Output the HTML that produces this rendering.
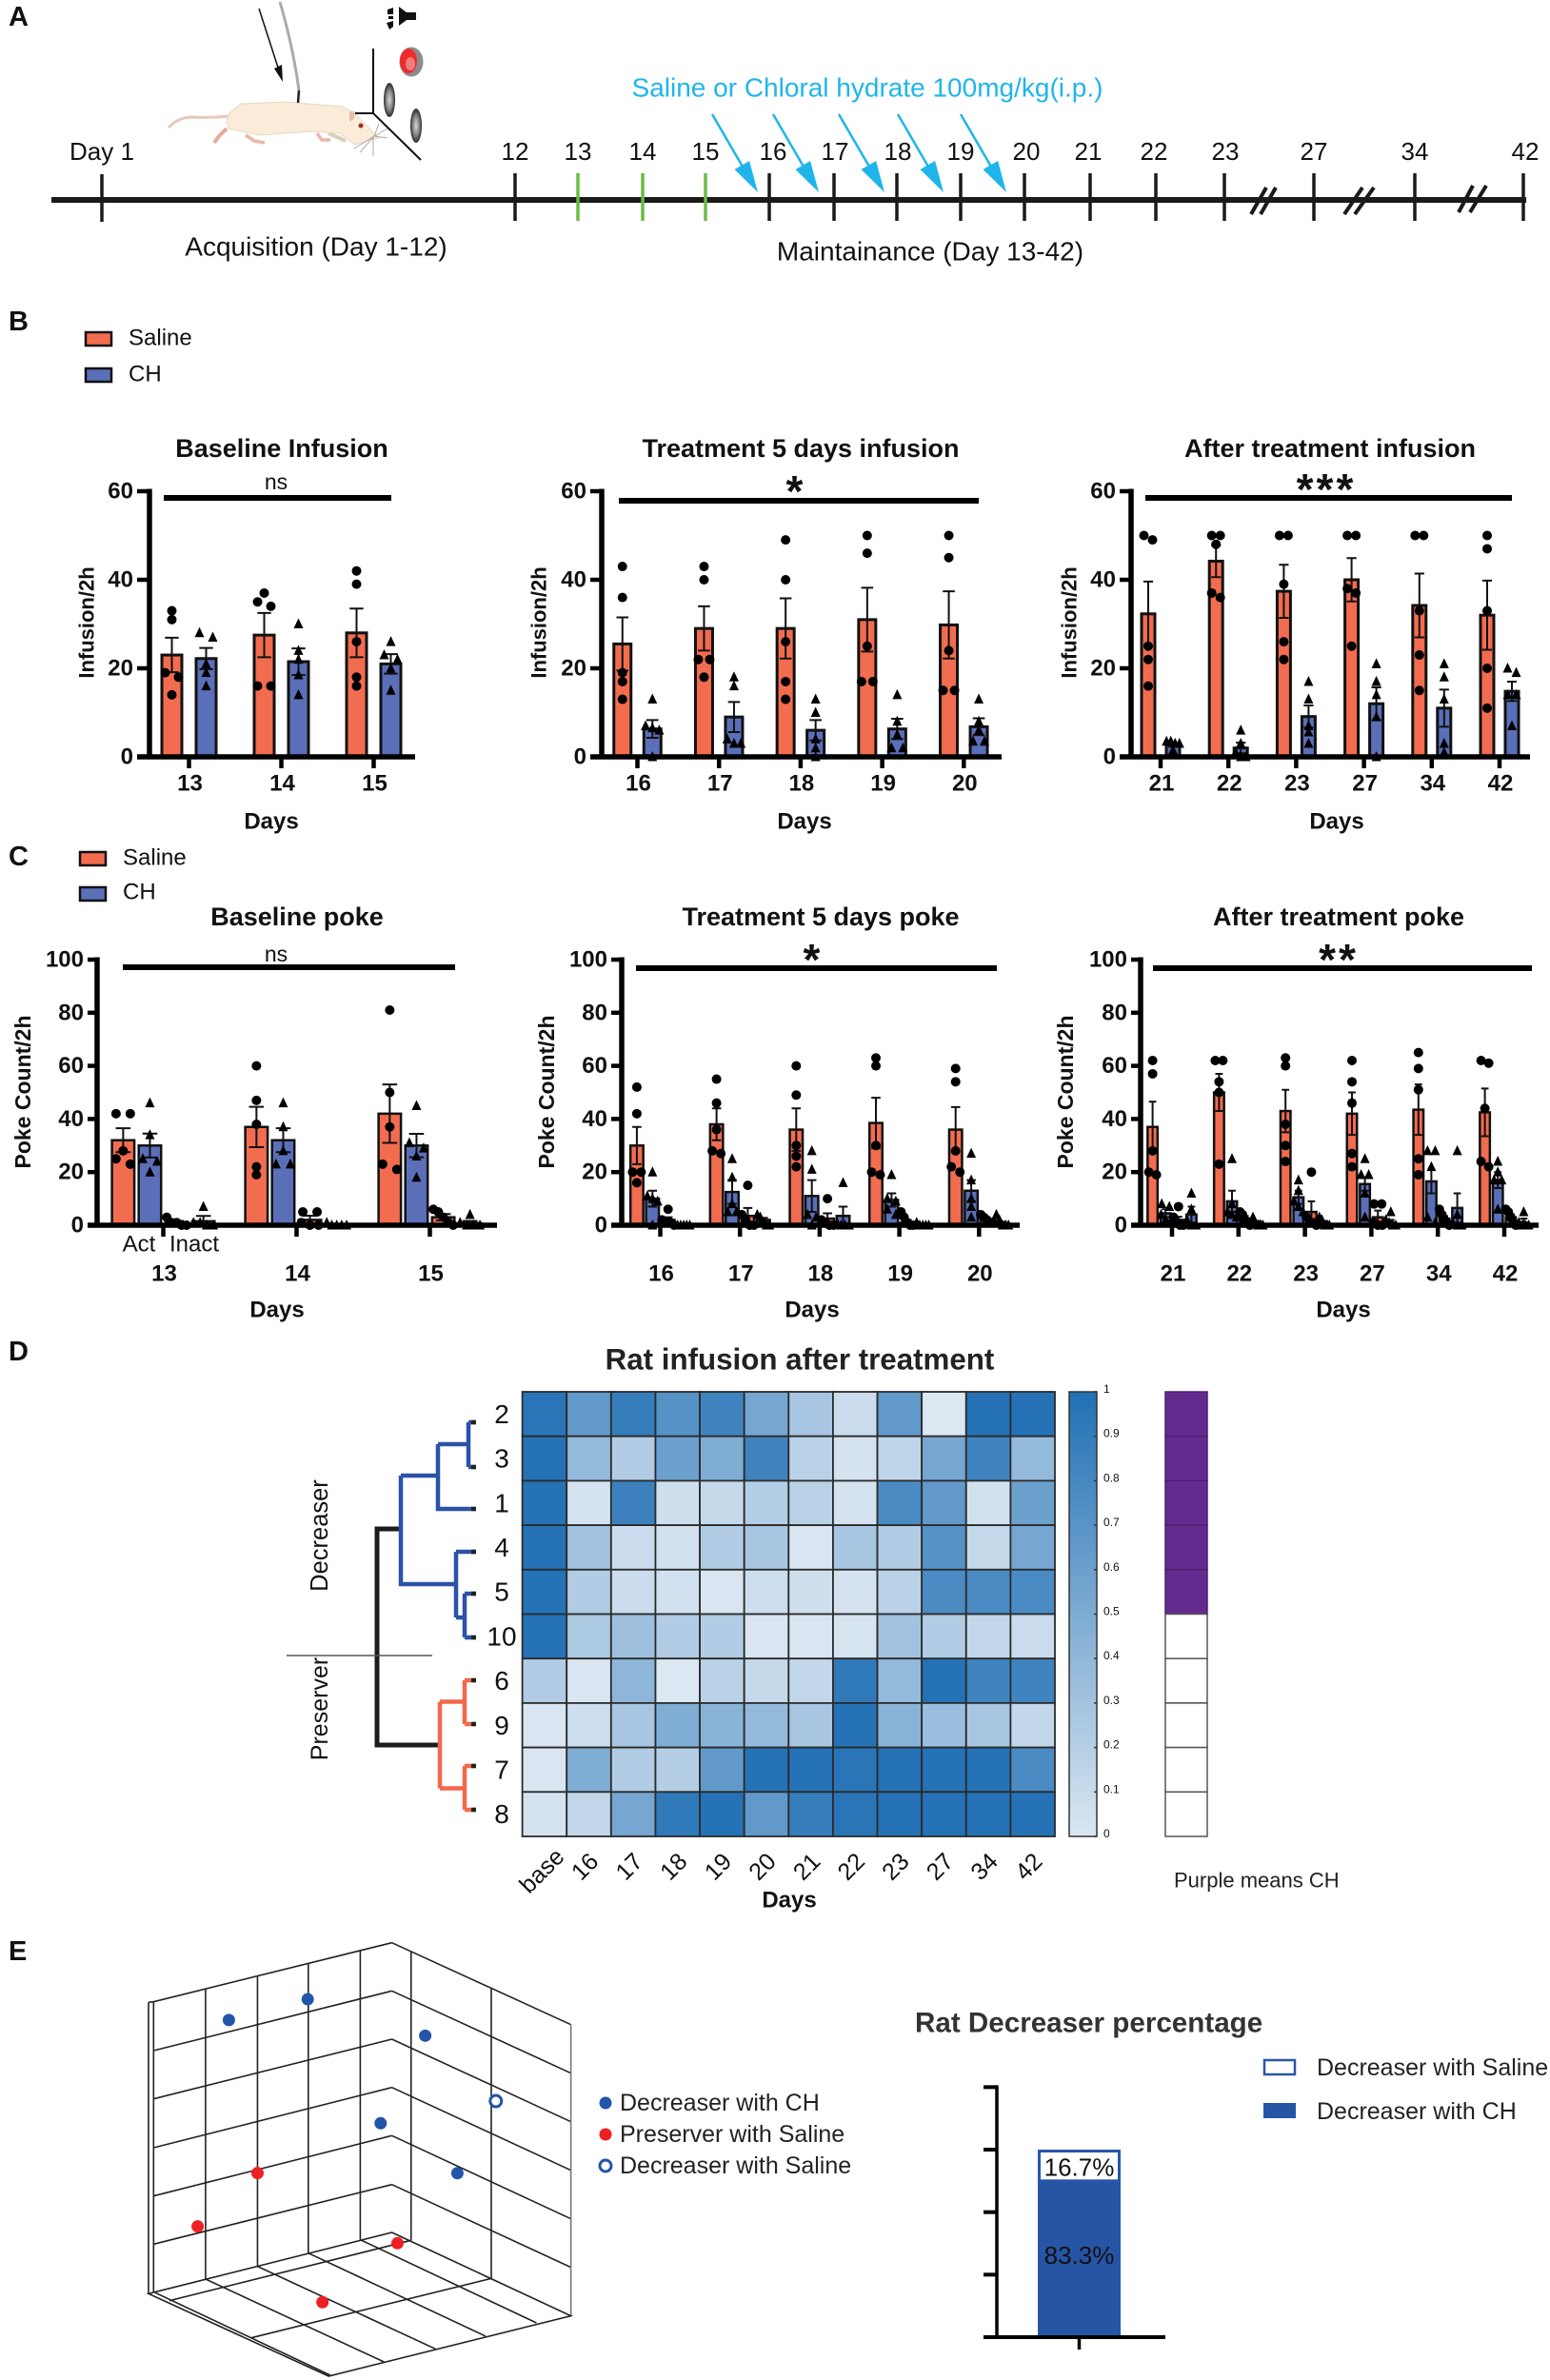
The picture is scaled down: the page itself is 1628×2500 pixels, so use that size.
<!DOCTYPE html>
<html lang="en">
<head>
<meta charset="utf-8">
<title>Chloral hydrate self-administration figure</title>
<style>
html,body{margin:0;padding:0;background:#fff}
svg{display:block}
text{font-family:"Liberation Sans",sans-serif;fill:#111}
.b{font-weight:bold}
.tl{font-size:26px;text-anchor:middle;dominant-baseline:central}
.tlw{font-size:28px;text-anchor:middle;dominant-baseline:central}
</style>
</head>
<body>
<svg id="fig" xmlns="http://www.w3.org/2000/svg" width="1628" height="2500" viewBox="0 0 1628 2500">
<defs>
<linearGradient id="cbGrad" x1="0" y1="0" x2="0" y2="1"><stop offset="0" stop-color="#2070b4"/><stop offset="1" stop-color="#dbe7f2"/></linearGradient>
<radialGradient id="holeGrad"><stop offset="0" stop-color="#d8d8d8"/><stop offset="0.55" stop-color="#888"/><stop offset="1" stop-color="#2a2a2a"/></radialGradient>
</defs>
<rect width="1628" height="2500" fill="#fff"/>

<g>
<text class="b" x="9" y="18" font-size="29" dominant-baseline="central">A</text>
<g>
<path d="M242 122Q222 124 200 123Q186 124 177 134" fill="none" stroke="#e6c8ba" stroke-width="3"/>
<path d="M238 135L230 143L225 150" fill="none" stroke="#e8a898" stroke-width="4"/>
<path d="M258 142L267 148L278 150" fill="none" stroke="#e8b8a8" stroke-width="3.5"/>
<path d="M333 140L338 147L347 147" fill="none" stroke="#e8b8a8" stroke-width="3.5"/>
<path d="M345 140L363 148" fill="none" stroke="#d8cfc0" stroke-width="4"/>
<path d="M240 120L253 109L300 107L360 112L373 120L393 140L398 145L390 147L373 152L357 140L327 138L273 142L240 135L238 128Z" fill="#fbecd9" stroke="#e6d8c4" stroke-width="1"/>
<path d="M367 117L373 117L372 125L367 128Z" fill="#e6c0a8"/>
<circle cx="379" cy="132" r="2.5" fill="#a02a1a"/>
<path d="M393 143L372 156M393 143L378 160M392 143L392 164M393 143L398 130M393 143L407 135M393 143L407 145" stroke="#aaa" stroke-width="1" fill="none"/>
<path d="M294 2Q308 50 314 95" stroke="#aaa" stroke-width="3" fill="none"/>
<path d="M314 95L313 108" stroke="#222" stroke-width="2.5"/>
<path d="M272 9L293 74" stroke="#111" stroke-width="1.5" fill="none"/>
<path d="M297 86L288 72L296 68Z" fill="#111"/>
<path d="M392 51V119L442 168" stroke="#111" stroke-width="2" fill="none"/>
<path d="M373 119H392" stroke="#111" stroke-width="2"/>
<ellipse cx="432" cy="65" rx="12.5" ry="15.5" fill="#8c8c8c"/>
<ellipse cx="429" cy="64" rx="9" ry="13" fill="#ee2a2a"/>
<ellipse cx="431" cy="67" rx="5" ry="7" fill="#f07f7f"/>
<ellipse cx="409" cy="105" rx="6" ry="18" fill="url(#holeGrad)"/>
<ellipse cx="437" cy="132" rx="6" ry="18" fill="url(#holeGrad)"/>
<path d="M419 7L427 13H437V21H427L419 27Z" fill="#111"/>
<path d="M407 10L413 8V15H407ZM408 17H413V20H408ZM406 24L413 22V28L409 31Z" fill="#111"/>
</g>
<path d="M54 210H1603" stroke="#1a1a1a" stroke-width="6"/>
<g stroke="#1a1a1a" stroke-width="3.5">
<path d="M107 183V233"/>
<path d="M541 182V232"/>
<path d="M607 182V232" stroke="#6cbb45"/>
<path d="M675 182V232" stroke="#6cbb45"/>
<path d="M741 182V232" stroke="#6cbb45"/>
<path d="M808 182V232"/>
<path d="M876 182V232"/>
<path d="M942 182V232"/>
<path d="M1009 182V232"/>
<path d="M1076 182V232"/>
<path d="M1145 182V232"/>
<path d="M1214 182V232"/>
<path d="M1286 182V232"/>
<path d="M1380 182V232"/>
<path d="M1486 182V232"/>
<path d="M1600 182V232"/>
</g>
<path d="M1314 225L1330 197M1324 225L1340 197M1412 225L1431 197M1423 225L1443 197M1532 223L1547 195M1544 223L1561 195" stroke="#1a1a1a" stroke-width="4"/>
<g>
<text class="tl" x="107" y="159">Day 1</text>
<text class="tl" x="541" y="159">12</text>
<text class="tl" x="607" y="159">13</text>
<text class="tl" x="675" y="159">14</text>
<text class="tl" x="741" y="159">15</text>
<text class="tl" x="812" y="159">16</text>
<text class="tl" x="877" y="159">17</text>
<text class="tl" x="943" y="159">18</text>
<text class="tl" x="1009" y="159">19</text>
<text class="tl" x="1078" y="159">20</text>
<text class="tl" x="1143" y="159">21</text>
<text class="tl" x="1212" y="159">22</text>
<text class="tl" x="1287" y="159">23</text>
<text class="tl" x="1380" y="159">27</text>
<text class="tl" x="1486" y="159">34</text>
<text class="tl" x="1602" y="159">42</text>
<text class="tlw" x="332" y="259">Acquisition (Day 1-12)</text>
<text class="tlw" x="977" y="264">Maintainance (Day 13-42)</text>
<text class="tlw" x="911" y="92" style="fill:#1fb5ea">Saline or Chloral hydrate 100mg/kg(i.p.)</text>
</g>
<g fill="#1fb5ea" stroke="#1fb5ea">
<g><path d="M748 120L780 175" stroke-width="2.5" fill="none"/><path d="M796 202L771.5 178L787.1 169Z" stroke="none"/></g>
<g><path d="M812 120L844 175" stroke-width="2.5" fill="none"/><path d="M860 202L835.5 178L851.1 169Z" stroke="none"/></g>
<g><path d="M881 120L913 175" stroke-width="2.5" fill="none"/><path d="M929 202L904.5 178L920.1 169Z" stroke="none"/></g>
<g><path d="M943 120L975 175" stroke-width="2.5" fill="none"/><path d="M991 202L966.5 178L982.1 169Z" stroke="none"/></g>
<g><path d="M1009 120L1041 175" stroke-width="2.5" fill="none"/><path d="M1057 202L1032.5 178L1048.1 169Z" stroke="none"/></g>
</g>
</g>

<g>
<text class="b" x="9" y="338" font-size="29" dominant-baseline="central">B</text>
<rect x="90" y="349" width="27" height="14" fill="#f26c4f" stroke="#111" stroke-width="2.5"/>
<text x="135" y="355" font-size="24" dominant-baseline="central">Saline</text>
<rect x="90" y="387" width="27" height="14" fill="#5b6fb9" stroke="#111" stroke-width="2.5"/>
<text x="135" y="393" font-size="24" dominant-baseline="central">CH</text>
</g>
<g>
<text class="b" x="9" y="900" font-size="29" dominant-baseline="central">C</text>
<rect x="84" y="895" width="27" height="14" fill="#f26c4f" stroke="#111" stroke-width="2.5"/>
<text x="129" y="901" font-size="24" dominant-baseline="central">Saline</text>
<rect x="84" y="932" width="27" height="14" fill="#5b6fb9" stroke="#111" stroke-width="2.5"/>
<text x="129" y="937" font-size="24" dominant-baseline="central">CH</text>
<text x="146" y="1307" font-size="24" text-anchor="middle" dominant-baseline="central">Act</text>
<text x="204" y="1307" font-size="24" text-anchor="middle" dominant-baseline="central">Inact</text>
</g>
<g id="barCharts"></g>

<g id="panelD">
<text class="b" x="9" y="1420" font-size="29" dominant-baseline="central">D</text>
<text class="b" x="840" y="1428" font-size="31.3" text-anchor="middle" dominant-baseline="central" style="fill:#222">Rat infusion after treatment</text>
<g fill="none">
<path d="M421 1606H396V1833H462" stroke="#1c1c1c" stroke-width="5"/>
<path d="M421 1550H460M460 1517V1585H500M460 1517H492M492 1494V1541M492 1494H500M492 1541H500M421 1550V1664H479M479 1630V1699M479 1630H500M479 1699H488M488 1674V1720M488 1674H500M488 1720H500" stroke="#2a52a8" stroke-width="4.5"/>
<path d="M462 1787.5V1878.5M462 1787.5H488M488 1765V1811M488 1765H500M488 1811H500M462 1878.5H488M488 1855V1901M488 1855H500M488 1901H500" stroke="#f4674a" stroke-width="4.5"/>
<path d="M495 1494h5M495 1541h5M495 1585h5M495 1630h5M495 1674h5M495 1720h5M495 1765h5M495 1811h5M495 1855h5M495 1901h5" stroke="#222" stroke-width="4.5"/>
</g>
<path d="M301 1739H454" stroke="#555" stroke-width="1.5"/>
<text x="336" y="1613" font-size="25.5" text-anchor="middle" dominant-baseline="central" transform="rotate(-90 336 1613)">Decreaser</text>
<text x="336" y="1795" font-size="25" text-anchor="middle" dominant-baseline="central" transform="rotate(-90 336 1795)">Preserver</text>
<rect x="1123" y="1462" width="29" height="467" fill="url(#cbGrad)" stroke="#333" stroke-width="1.5"/>
<text class="b" x="829" y="1996" font-size="24" text-anchor="middle" dominant-baseline="central">Days</text>
<text x="1233" y="1975" font-size="22" dominant-baseline="central" style="fill:#222">Purple means CH</text>
</g>

<g id="panelE">
<text class="b" x="9" y="2050" font-size="29" dominant-baseline="central">E</text>
<g transform="translate(0 2020) scale(0.5931 0.33333)" fill="none" stroke="#222" stroke-width="1.6">
<path vector-effect="non-scaling-stroke" d="M272 248L694 62M272 402L694 214M272 554L694 366M272 708L694 518M272 860L694 670M272 1012L694 824"/>
<path vector-effect="non-scaling-stroke" d="M694 62L1011 320M694 214L1011 473M694 366L1011 626M694 518L1011 779M694 670L1011 932M694 824L1011 1085"/>
<path vector-effect="non-scaling-stroke" d="M263 250V1168M272 248V1165M364 207V1122M456 167V1082M546 127V1040M638 87V998M728 90V1000M870 207V1120"/>
<path vector-effect="non-scaling-stroke" stroke="#777" d="M1011 320V1238"/>
<path vector-effect="non-scaling-stroke" d="M263 250L272 248"/>
<path vector-effect="non-scaling-stroke" d="M263 1168L694 975L1011 1238L582 1428ZM275 1165L585 1425M364 1122L680 1383M456 1082L771 1342M546 1040L860 1302M638 998L950 1260M300 1190L728 1000M445 1307L870 1120"/>
</g>
<g id="scatterMarks"></g>
<circle cx="636" cy="2209" r="6.5" fill="#2355a9"/>
<text x="651" y="2209" font-size="25" dominant-baseline="central" style="fill:#222">Decreaser with CH</text>
<circle cx="636" cy="2242" r="6.5" fill="#ed2024"/>
<text x="651" y="2242" font-size="25" dominant-baseline="central" style="fill:#222">Preserver with Saline</text>
<circle cx="636" cy="2275" r="6" fill="#fff" stroke="#2355a9" stroke-width="3"/>
<text x="651" y="2275" font-size="25" dominant-baseline="central" style="fill:#222">Decreaser with Saline</text>
<text class="b" x="961" y="2125" font-size="29.6" dominant-baseline="central" style="fill:#333">Rat Decreaser percentage</text>
<rect x="1328" y="2164" width="32" height="15" fill="#fff" stroke="#2a55a8" stroke-width="2.5"/>
<text x="1383" y="2172" font-size="25" dominant-baseline="central" style="fill:#222">Decreaser with Saline</text>
<rect x="1327" y="2209" width="34" height="16" fill="#2655a5"/>
<text x="1383" y="2218" font-size="25" dominant-baseline="central" style="fill:#222">Decreaser with CH</text>
<g id="stackedBar"></g>
</g>
</svg>

<script>
// ---------- Infusion: baseline ----------
const infBaseDays = ['13','14','15'];
const infBaseSalineMean = [23,27.5,28];
const infBaseSalineSem = [3.9,5,5.5];
const infBaseSalinePts = [[33,31,19,18,14],[37,35,34,16,16],[42,39,26,18,16]];
const infBaseChMean = [22.2,21.5,21];
const infBaseChSem = [2.4,3,2.2];
const infBaseChPts = [[28,27,21,19,16],[30,24,22,18.5,14],[26,23,22,20,15]];
// ---------- Infusion: treatment ----------
const infTreatDays = ['16','17','18','19','20'];
const infTreatSalineMean = [25.5,29,29,31,29.8];
const infTreatSalineSem = [6,5,6.8,7.2,7.6];
const infTreatSalinePts = [[43,36,19,17,13],[43,40,22,22,18],[49,40,26,17,13],[50,46,25,17,17],[50,45,24,15,15]];
const infTreatChMean = [6.3,9,6,6.3,6.8];
const infTreatChSem = [2,3.4,2.3,2.3,1.9];
const infTreatChPts = [[13,7,6.5,6,0],[18,16,4,3,3],[13,10,4,2,0],[14,8,5,2,2],[13,8,6,3.5,3.5]];
// ---------- Infusion: after treatment ----------
const infAfterDays = ['21','22','23','27','34','42'];
const infAfterSalineMean = [32.3,44.2,37.4,40,34.2,32];
const infAfterSalineSem = [7.3,3.6,6,4.9,7.2,7.8];
const infAfterSalinePts = [[50,49,25,22,16],[50,50,48,37,36],[50,50,39,26,22],[50,50,38,37,25],[50,50,33,23,15],[50,47,33,20,11]];
const infAfterChMean = [2.7,2,9.1,12,11,14.8];
const infAfterChSem = [0.4,1.2,2.5,3.7,4.2,2.2];
const infAfterChPts = [[3.5,3.5,3,3,1.5],[6,3,1,0,0],[17,13,7,5.6,3],[21,17,14,9,0],[21,18,13,3,1],[20,19,14,14,7]];
// ---------- Poke: baseline ----------
const pokeBaseDays = ['13','14','15'];
const pokeBaseActSalineMean = [32,37,42];
const pokeBaseActSalineSem = [4.5,7.6,11];
const pokeBaseActSalinePts = [[42,42,28,25,23],[60,47,38,22,19],[81,50,37,23,21]];
const pokeBaseActChMean = [30,32,30];
const pokeBaseActChSem = [4.5,4.5,4.4];
const pokeBaseActChPts = [[46,34,25,24,20],[46,37,28,23,23],[45,31,29,26,18]];
const pokeBaseInSalineMean = [1,2,3];
const pokeBaseInSalineSem = [0.6,1.6,1.2];
const pokeBaseInSalinePts = [[3,1,1,0,0],[5,5,1,0,0],[6,5,3,1,0]];
const pokeBaseInChMean = [1.5,0.2,0.8];
const pokeBaseInChSem = [2,0.2,0.8];
const pokeBaseInChPts = [[7,1,1,0,0],[1,0,0,0,0],[4,1,0,0,0]];
// ---------- Poke: treatment ----------
const pokeTreatDays = ['16','17','18','19','20'];
const pokeTreatActSalineMean = [30,38,36,38.5,36];
const pokeTreatActSalineSem = [7,6,8,9.5,8.5];
const pokeTreatActSalinePts = [[52,42,20,20,16],[55,46,36,28,27],[60,49,30,26,22],[63,60,30,20,19],[59,54,28,22,20]];
const pokeTreatActChMean = [10,12.5,11,9.5,13];
const pokeTreatActChSem = [3,4.5,6,2.5,4];
const pokeTreatActChPts = [[20,11,10,9,0],[25,18,8,5,5],[28,21,4,3,0],[19,10,9,6,4],[27,17,10,7,3]];
const pokeTreatInSalineMean = [2,3.5,2.5,1,2];
const pokeTreatInSalineSem = [1,3,2,1,0.6];
const pokeTreatInSalinePts = [[6,2,1,1,0],[15,4,2,0,0],[10,2,1,0,0],[5,3,1,0,0],[4,3,2,1,1]];
const pokeTreatInChMean = [0.1,2,3.5,0.2,0.5];
const pokeTreatInChSem = [0.1,0.8,3.5,0.2,0.8];
const pokeTreatInChPts = [[0,0,0,0,0],[4,3,1,0,0],[16,1,0,0,0],[1,0,0,0,0],[4,2,0,0,0]];
// ---------- Poke: after treatment ----------
const pokeAfterDays = ['21','22','23','27','34','42'];
const pokeAfterActSalineMean = [37,50,43,42,43.5,42.5];
const pokeAfterActSalineSem = [9.5,7,8,8,9.5,9];
const pokeAfterActSalinePts = [[62,57,28,20,19],[62,62,54,50,23],[63,60,38,30,24],[62,54,46,27,22],[65,59,51,25,19],[62,61,44,24,22]];
const pokeAfterActChMean = [4.5,9,10.5,15.5,16.5,17];
const pokeAfterActChSem = [1.5,4,2.5,2.5,4.5,3];
const pokeAfterActChPts = [[8,7,4,2,1],[25,8,5,4,3],[17,13,9,7,5],[25,19,19,12,3],[28,28,22,3,1],[24,20,17,17,6]];
const pokeAfterInSalineMean = [2,2.5,5,3,2.5,3];
const pokeAfterInSalineSem = [1.2,1,4,2.5,1,1.2];
const pokeAfterInSalinePts = [[7,3,1,0,0],[5,4,2,1,0],[20,3,1,1,0],[8,8,1,0,0],[6,4,2,1,0],[6,5,3,1,0]];
const pokeAfterInChMean = [4,1,1,1,6.5,1];
const pokeAfterInChSem = [3,0.6,0.6,1,5.5,1.5];
const pokeAfterInChPts = [[12,6,2,0,0],[3,1,0,0,0],[3,2,0,0,0],[5,2,1,0,0],[28,4,1,0,0],[5,1,0,0,0]];
// ---------- Shared tick labels ----------
const infusionTicks = [0,20,40,60];
const pokeTicks = [0,20,40,60,80,100];
// ---------- Heatmap ----------
const heatCols = ['base','16','17','18','19','20','21','22','23','27','34','42'];
const heatRowLabels = ['2','3','1','4','5','10','6','9','7','8'];
const heatRat2 = [.95,.7,.9,.75,.85,.6,.35,.15,.7,.02,.97,.97];
const heatRat3 = [.97,.45,.3,.65,.55,.85,.25,.08,.22,.6,.85,.45];
const heatRat1 = [.97,.08,.87,.12,.18,.28,.25,.08,.8,.7,.1,.65];
const heatRat4 = [.97,.38,.15,.1,.3,.35,.05,.35,.3,.75,.18,.6];
const heatRat5 = [.97,.3,.15,.1,.05,.13,.12,.08,.25,.8,.8,.8];
const heatRat10 = [.97,.32,.4,.3,.3,.05,.05,.07,.38,.3,.2,.15];
const heatRat6 = [.3,.05,.48,.03,.25,.18,.2,.92,.45,.97,.85,.85];
const heatRat9 = [.05,.13,.35,.55,.5,.45,.35,.97,.5,.42,.35,.2];
const heatRat7 = [.05,.55,.3,.28,.7,.97,.97,.95,.97,.97,.97,.8];
const heatRat8 = [.08,.2,.6,.92,.97,.7,.9,.95,.97,.97,.97,.97];
const groupIsCh = [1,1,1,1,1,0,0,0,0,0];
const colorbarTicks = [0,.1,.2,.3,.4,.5,.6,.7,.8,.9,1];
// ---------- 3D scatter: axis units along the left wall, right wall, and height ----------
const decreaserChPc1 = [3.17,1.637,0,0.219,0];
const decreaserChPc2 = [0,0,0.419,0,0.823];
const decreaserChPc3 = [5.226,5.243,4.367,2.308,1.839];
const preserverSalinePc1 = [2.613,3.778,0.224,2.776];
const preserverSalinePc2 = [0,0,0.215,0.921];
const preserverSalinePc3 = [1.925,1.139,0,0];
const decreaserSalinePc1 = [0];
const decreaserSalinePc2 = [1.306];
const decreaserSalinePc3 = [3.686];
// ---------- Stacked bar: rat counts, printed percentages ----------
const stackLabels = ['83.3%','16.7%'];
const stackValues = [5,1];
const stackAxisTicks = [0,2,4,6,8];

const NS = 'http://www.w3.org/2000/svg';
function el(tag, attrs, parent){
  const n = document.createElementNS(NS, tag);
  for (const k in attrs) n.setAttribute(k, attrs[k]);
  parent.appendChild(n);
  return n;
}
function label(parent, x, y, str, size, bold, anchor){
  const t = el('text', {x:x, y:y, 'font-size':size, 'text-anchor':anchor||'middle', 'dominant-baseline':'central'}, parent);
  if (bold) t.setAttribute('font-weight', 'bold');
  t.textContent = str;
  return t;
}
function swarm(vals, pxPerUnit, dist, maxWidth){
  const order = vals.map((v,i)=>[v,i]).sort((a,b)=>b[0]-a[0]);
  const off = new Array(vals.length).fill(0);
  let start = 0;
  for (let i = 1; i <= order.length; i++){
    if (i === order.length || (order[i-1][0]-order[i][0])*pxPerUnit >= 6){
      const n = i - start;
      let d = n > 2 ? dist*0.6 : dist;
      if (n > 2) d = Math.min(d, maxWidth/(n-1));
      for (let j = start; j < i; j++) off[order[j][1]] = (j-start-(n-1)/2)*d;
      start = i;
    }
  }
  return off;
}
function drawChart(c){
  const root = document.getElementById('barCharts');
  const g = el('g', {}, root);
  
  
  const yScale = v => c.y0 - v*(c.y0-c.yTop)/c.yMax;
  const xScale = i => c.first + i*c.groupStep;
  const pxPerUnit = (c.y0-c.yTop)/c.yMax;

  const title = label(g, c.titleX, c.titleY, c.title, 27, true);
  
  

  c.series.forEach((s, j) => {
    const bx = k => xScale(k) + (j-(c.series.length-1)/2)*c.barStep;
    c.days.forEach((day, k) => {
      const top = yScale(s.mean[k]);
      const bar = el('rect', {x:bx(k)-c.barW/2+c.sw/2, y:top, width:c.barW-c.sw, height:Math.max(0,c.y0-top), fill:s.color, stroke:'#111', 'stroke-width':c.sw}, g);
      
      
      const cap = c.barW*0.3;
      const hi = yScale(s.mean[k]+s.sem[k]);
      const lo = yScale(Math.max(0,s.mean[k]-s.sem[k]));
      const err = el('path', {d:'M'+(bx(k)-cap)+' '+hi+'H'+(bx(k)+cap)+'M'+bx(k)+' '+hi+'V'+lo+'M'+(bx(k)-cap)+' '+lo+'H'+(bx(k)+cap), stroke:'#111', 'stroke-width':2, fill:'none'}, g);
      
      
    });
  });

  const yAxis = el('path', {d:'M'+c.x0+' '+(c.yTop-2.5)+'V'+(c.y0+2.5), stroke:'#000', 'stroke-width':5.5, fill:'none'}, g);
  
  
  const xAxis = el('path', {d:'M'+c.xLeft+' '+c.y0+'H'+c.xRight, stroke:'#000', 'stroke-width':5.5, fill:'none'}, g);
  
  

  c.ticks.forEach(v => {
    const t = el('path', {d:'M'+c.xLeft+' '+yScale(v)+'H'+c.x0, stroke:'#000', 'stroke-width':4.5}, g);
    
    
    const l = label(g, c.xLeft-4, yScale(v), String(v), 24, true, 'end');
    
    
  });
  c.days.forEach((day, k) => {
    const t = el('path', {d:'M'+xScale(k)+' '+c.y0+'V'+(c.y0+12), stroke:'#000', 'stroke-width':4.5}, g);
    
    
    const l = label(g, xScale(k)+1, c.labelY, day, 24, true);
    
    
  });

  c.series.forEach((s, j) => {
    const bx = k => xScale(k) + (j-(c.series.length-1)/2)*c.barStep;
    c.days.forEach((day, k) => {
      const off = swarm(s.pts[k], pxPerUnit, c.swarm, c.barW*0.8);
      s.pts[k].forEach((v, p) => {
        const px = bx(k)+off[p], py = yScale(v);
        let m;
        if (s.shape === 'circle'){
          m = el('circle', {cx:px, cy:py, r:5, fill:'#000'}, g);
        } else {
          m = el('path', {d:'M'+px+' '+(py-6)+'L'+(px+5)+' '+(py+4.5)+'L'+(px-5)+' '+(py+4.5)+'Z', fill:'#000'}, g);
        }
        
        
      });
    });
  });

  const sig = el('path', {d:'M'+c.sig[0]+' '+c.sig[2]+'H'+c.sig[1], stroke:'#000', 'stroke-width':6}, g);
  
  
  let sigLabel;
  if (c.sigText === 'ns'){
    sigLabel = label(g, c.sigX, c.sigY, 'ns', 23, false);
  } else {
    sigLabel = el('text', {x:c.sigX, y:c.sigY+25, 'font-size':46, 'font-weight':'bold', 'text-anchor':'middle', 'letter-spacing':'3'}, g);
    sigLabel.textContent = c.sigText;
  }
  
  

  const yt = label(g, c.yTitleX, c.yTitleY, c.yTitle, c.yTitle.length>12?23:22, true);
  yt.setAttribute('transform', 'rotate(-90 '+c.yTitleX+' '+c.yTitleY+')');
  
  
  const xt = label(g, c.xTitleX, c.xTitleY, 'Days', 24, true);
  
  
}
const SAL = '#f26c4f', CHC = '#5b6fb9';
function two(sm,ss,sp,cm,cs,cp){
  return [
    {key:'saline', color:SAL, shape:'circle', mean:sm, sem:ss, pts:sp},
    {key:'ch', color:CHC, shape:'tri', mean:cm, sem:cs, pts:cp}
  ];
}
function four(am,as,ap,bm,bs,bp,cm,cs,cp,dm,ds,dp){
  return [
    {key:'active-saline', color:SAL, shape:'circle', mean:am, sem:as, pts:ap},
    {key:'active-ch', color:CHC, shape:'tri', mean:bm, sem:bs, pts:bp},
    {key:'inactive-saline', color:SAL, shape:'circle', mean:cm, sem:cs, pts:cp},
    {key:'inactive-ch', color:CHC, shape:'tri', mean:dm, sem:ds, pts:dp}
  ];
}
const infLayout = {y0:795, yTop:516, yMax:60, ticks:infusionTicks, labelY:823, xTitleY:863, titleY:471, yTitle:'Infusion/2h', yTitleY:654, sw:3};
const pokeLayout = {y0:1287, yTop:1008, yMax:100, ticks:pokeTicks, labelY:1338, xTitleY:1376, titleY:963, yTitle:'Poke Count/2h', yTitleY:1147, sw:2.5};

drawChart(Object.assign({}, infLayout, {name:'baseline-infusion-chart', title:'Baseline Infusion', titleX:296, days:infBaseDays,
  series:two(infBaseSalineMean,infBaseSalineSem,infBaseSalinePts,infBaseChMean,infBaseChSem,infBaseChPts),
  x0:157, xLeft:144, xRight:436, first:198.5, groupStep:97, barStep:36, barW:24, swarm:14,
  sig:[172,411,523], sigText:'ns', sigX:290, sigY:506, yTitleX:91, xTitleX:285}));
drawChart(Object.assign({}, infLayout, {name:'treatment-infusion-chart', title:'Treatment 5 days infusion', titleX:841, days:infTreatDays,
  series:two(infTreatSalineMean,infTreatSalineSem,infTreatSalinePts,infTreatChMean,infTreatChSem,infTreatChPts),
  x0:632, xLeft:620, xRight:1052, first:669.5, groupStep:85.7, barStep:31.5, barW:21, swarm:12,
  sig:[650,1028,526], sigText:'*', sigX:836, sigY:507, yTitleX:566, xTitleX:845}));
drawChart(Object.assign({}, infLayout, {name:'after-treatment-infusion-chart', title:'After treatment infusion', titleX:1397, days:infAfterDays,
  series:two(infAfterSalineMean,infAfterSalineSem,infAfterSalinePts,infAfterChMean,infAfterChSem,infAfterChPts),
  x0:1188, xLeft:1176, xRight:1607, first:1219, groupStep:71.2, barStep:26, barW:17, swarm:9,
  sig:[1203,1588,523], sigText:'***', sigX:1393, sigY:505, yTitleX:1123, xTitleX:1404}));
drawChart(Object.assign({}, pokeLayout, {name:'baseline-poke-chart', title:'Baseline poke', titleX:312, days:pokeBaseDays,
  series:four(pokeBaseActSalineMean,pokeBaseActSalineSem,pokeBaseActSalinePts,pokeBaseActChMean,pokeBaseActChSem,pokeBaseActChPts,pokeBaseInSalineMean,pokeBaseInSalineSem,pokeBaseInSalinePts,pokeBaseInChMean,pokeBaseInChSem,pokeBaseInChPts),
  x0:102, xLeft:92, xRight:522, first:171.5, groupStep:140, barStep:28.1, barW:26, swarm:15,
  sig:[129,478,1016], sigText:'ns', sigX:290, sigY:1002, yTitleX:24, xTitleX:291}));
drawChart(Object.assign({}, pokeLayout, {name:'treatment-poke-chart', title:'Treatment 5 days poke', titleX:862, days:pokeTreatDays,
  series:four(pokeTreatActSalineMean,pokeTreatActSalineSem,pokeTreatActSalinePts,pokeTreatActChMean,pokeTreatActChSem,pokeTreatActChPts,pokeTreatInSalineMean,pokeTreatInSalineSem,pokeTreatInSalinePts,pokeTreatInChMean,pokeTreatInChSem,pokeTreatInChPts),
  x0:653, xLeft:642, xRight:1071, first:693.5, groupStep:83.7, barStep:16.4, barW:16, swarm:9,
  sig:[668,1047,1017], sigText:'*', sigX:854, sigY:999, yTitleX:574, xTitleX:853}));
drawChart(Object.assign({}, pokeLayout, {name:'after-treatment-poke-chart', title:'After treatment poke', titleX:1406, days:pokeAfterDays,
  series:four(pokeAfterActSalineMean,pokeAfterActSalineSem,pokeAfterActSalinePts,pokeAfterActChMean,pokeAfterActChSem,pokeAfterActChPts,pokeAfterInSalineMean,pokeAfterInSalineSem,pokeAfterInSalinePts,pokeAfterInChMean,pokeAfterInChSem,pokeAfterInChPts),
  x0:1198, xLeft:1188, xRight:1616, first:1231, groupStep:69.8, barStep:13.6, barW:13, swarm:8,
  sig:[1211,1609,1017], sigText:'**', sigX:1406, sigY:999, yTitleX:1119, xTitleX:1411}));

// Heatmap
(function(){
  const d = document.getElementById('panelD');
  const rows = [heatRat2,heatRat3,heatRat1,heatRat4,heatRat5,heatRat10,heatRat6,heatRat9,heatRat7,heatRat8];
  const left = 548.6, top = 1462, cw = 559.4/heatCols.length, rh = 467/heatRowLabels.length;
  const xCol = i => left + i*cw;
  const yRow = i => top + i*rh;
  const lo = [222,233,243], hi = [30,110,180];
  const shade = v => { const t = Math.pow(v,1.2); return 'rgb('+lo.map((c,i)=>Math.round(c+(hi[i]-c)*t)).join(',')+')'; };
  rows.forEach((row, r) => {
    const rl = label(d, 527, yRow(r)+rh/2, heatRowLabels[r], 28, false);
    
    
    row.forEach((v, c) => {
      const cell = el('rect', {x:xCol(c), y:yRow(r), width:cw, height:rh, fill:shade(v), stroke:'#2b2b2b', 'stroke-width':1.8}, d);
      
      
    });
    const gc = el('rect', {x:1224, y:yRow(r), width:44, height:rh, fill:groupIsCh[r]?'#652a8f':'#fff', stroke:groupIsCh[r]?'#4d2070':'#555', 'stroke-width':1.5}, d);
    
    
  });
  heatCols.forEach((c, i) => {
    const cx = xCol(i)+cw/2, cy = 1961;
    const t = label(d, cx+(i===0?-6:-4), cy+(i===0?4:0), c, 25, false);
    t.setAttribute('transform', 'rotate(-45 '+(cx-4)+' '+cy+')');
    
    
  });
  const cbY = v => 1929 - 467*v;
  colorbarTicks.forEach(v => {
    const m = el('path', {d:'M1149 '+cbY(v)+'H1152', stroke:'#333', 'stroke-width':1.5}, d);
    
    
    const t = label(d, 1159, cbY(v)-3, String(v), 12, false, 'start');
    
    
  });
})();

// 3D scatter
(function(){
  const g = document.getElementById('scatterMarks');
  const sx = (a,b) => 411.6 - 54*a + 83.6*b;
  const sy = (a,b,c) => 2345 + 13.7*a + 38.3*b - 51*c;
  decreaserChPc1.forEach((a,i) => {
    const m = el('circle', {cx:sx(a,decreaserChPc2[i]), cy:sy(a,decreaserChPc2[i],decreaserChPc3[i]), r:6.5, fill:'#2355a9'}, g);
    
    
  });
  preserverSalinePc1.forEach((a,i) => {
    const m = el('circle', {cx:sx(a,preserverSalinePc2[i]), cy:sy(a,preserverSalinePc2[i],preserverSalinePc3[i]), r:6.5, fill:'#ed2024'}, g);
    
    
  });
  decreaserSalinePc1.forEach((a,i) => {
    const m = el('circle', {cx:sx(a,decreaserSalinePc2[i]), cy:sy(a,decreaserSalinePc2[i],decreaserSalinePc3[i]), r:6, fill:'#fff', stroke:'#2355a9', 'stroke-width':3}, g);
    
    
  });
})();

// Stacked bar
(function(){
  const g = document.getElementById('stackedBar');
  const y = v => 2455 - v*32.83;
  const bx = 1090, bw = 87;
  const ch = el('rect', {x:bx, y:y(stackValues[0]), width:bw, height:y(0)-y(stackValues[0]), fill:'#2655a5'}, g);
  
  
  const total = stackValues[0]+stackValues[1];
  const sal = el('rect', {x:bx+1.5, y:y(total)+1.5, width:bw-3, height:y(stackValues[0])-y(total)-1.5, fill:'#fff', stroke:'#2a55a8', 'stroke-width':3}, g);
  
  
  const l1 = label(g, bx+bw/2, (y(0)+y(stackValues[0]))/2-4, stackLabels[0], 26, false);
  
  
  const l2 = label(g, bx+bw/2, (y(stackValues[0])+y(total))/2+2, stackLabels[1], 26, false);
  
  
  const ya = el('path', {d:'M1047 '+(y(8)-2)+'V'+(y(0)+2), stroke:'#000', 'stroke-width':3.5}, g);
  
  
  const xa = el('path', {d:'M1033 '+y(0)+'H1224', stroke:'#000', 'stroke-width':4}, g);
  
  
  const xt = el('path', {d:'M1133.5 '+y(0)+'V2468', stroke:'#000', 'stroke-width':3.5}, g);
  
  
  stackAxisTicks.forEach(v => {
    const t = el('path', {d:'M1033 '+y(v)+'H1047', stroke:'#000', 'stroke-width':4}, g);
    
    
  });
})();
</script>
</body>
</html>
